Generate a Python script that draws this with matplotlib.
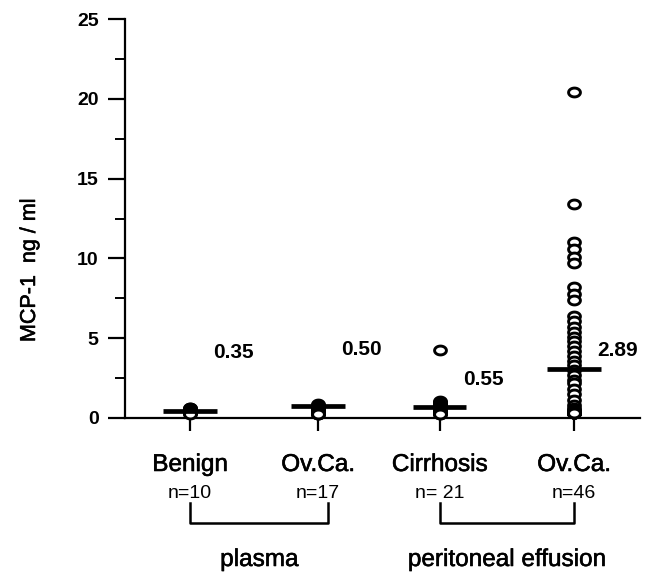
import numpy as np
import matplotlib
matplotlib.use("Agg")
import matplotlib.pyplot as plt
from matplotlib.path import Path
from matplotlib.lines import Line2D
import matplotlib.transforms as mtransforms
import matplotlib.patheffects as pe

plt.rcParams['font.family'] = ['Liberation Sans', 'DejaVu Sans']

# ---- data ----
categories = ["Benign", "Ov.Ca.", "Cirrhosis", "Ov.Ca."]
n_labels = ["n=10", "n=17", "n= 21", "n=46"]
groups = ["plasma", "peritoneal effusion"]
positions = [1, 2, 2.95, 4]

benign = [0.65, 0.6, 0.55, 0.5, 0.45, 0.4, 0.35, 0.3, 0.3, 0.25]
ovca_plasma = [0.85, 0.8, 0.75, 0.7, 0.65, 0.6, 0.55, 0.5, 0.45, 0.45,
               0.4, 0.35, 0.3, 0.3, 0.25, 0.25, 0.25]
cirrhosis = [4.25, 1.05, 1.0, 0.95, 0.9, 0.85, 0.8, 0.75, 0.7, 0.65, 0.6,
             0.55, 0.5, 0.45, 0.4, 0.35, 0.3, 0.3, 0.3, 0.25, 0.25]
ovca_effusion = [20.4, 13.4, 11.0, 10.6, 10.1, 9.7, 8.2, 7.8, 7.4, 6.4,
                 6.1, 5.7, 5.4, 5.1, 4.8, 4.5, 4.2, 3.9, 3.6, 3.3,
                 3.0, 2.7, 2.4, 2.2, 1.8, 1.5, 1.1, 0.8, 0.6, 0.5,
                 0.45, 0.4, 0.4, 0.35, 0.35, 0.3, 0.3, 0.3, 0.3, 0.3,
                 0.3, 0.3, 0.3, 0.3, 0.3, 0.3]
series = [benign, ovca_plasma, cirrhosis, ovca_effusion]

median_labels = ["0.35", "0.50", "0.55", "2.89"]
median_bar = [0.45, 0.75, 0.7, 3.1]
label_y = [4.1, 4.3, 2.4, 4.2]

yticks = [0, 5, 10, 15, 20, 25]

thick = [pe.withStroke(linewidth=0.4, foreground='black')]

# ---- figure ----
fig = plt.figure(figsize=(6.55, 5.73), dpi=100)
ax = fig.add_axes([125/655, (573-418)/573, (640-125)/655, (418-19)/573])

theta = np.linspace(0, 2*np.pi, 64)
ell = Path(np.c_[np.cos(theta), 0.75*np.sin(theta)], closed=True)

for p, vals in zip(positions, series):
    ax.plot([p]*len(vals), vals, linestyle='none', marker=ell, markersize=8.5,
            markerfacecolor='white', markeredgecolor='black', markeredgewidth=2.1,
            clip_on=False, zorder=3)

for p, m in zip(positions, median_bar):
    ax.plot([p-0.21, p+0.21], [m, m], color='black', lw=3.4, solid_capstyle='butt',
            zorder=4, clip_on=False)

for p, t, ly in zip(positions, median_labels, label_y):
    ax.text(p+0.34, ly, t, ha='center', va='center', fontsize=15, fontweight='bold')

ax.set_xlim(0.492, 4.516)
ax.set_ylim(0, 25)
ax.set_yticks(yticks)
ax.set_yticks(np.arange(2.5, 25, 5), minor=True)
ax.set_xticks(positions)
ax.set_xticklabels([])
ax.tick_params(axis='y', which='major', direction='out', length=12, width=1.6,
               labelsize=14, pad=7)
ax.tick_params(axis='y', which='minor', direction='out', length=7, width=1.4)
ax.tick_params(axis='x', which='major', direction='out', length=9, width=1.6)
for lab in ax.get_yticklabels():
    lab.set_fontweight('bold')
for s in ['top', 'right']:
    ax.spines[s].set_visible(False)
for s in ['left', 'bottom']:
    ax.spines[s].set_linewidth(1.6)

yl = ax.set_ylabel("MCP-1  ng / ml", fontsize=15.5)
yl.set_path_effects(thick)
ax.yaxis.set_label_coords(-85/515, 0.37)

trans = mtransforms.blended_transform_factory(ax.transData, fig.transFigure)
def fy(px):
    return 1 - px/573

for p, c, nl in zip(positions, categories, n_labels):
    ax.text(p, fy(465), c, transform=trans, ha='center', va='center',
            fontsize=17.5, clip_on=False, path_effects=thick)
    ax.text(p, fy(493), nl, transform=trans, ha='center', va='center',
            fontsize=14, clip_on=False)

# brackets
brackets = [(positions[0], positions[1] + 0.08), (positions[2], positions[3])]
for (a, b), g in zip(brackets, groups):
    ln = Line2D([a, a, b, b], [fy(503), fy(523), fy(523), fy(503)], transform=trans,
                color='black', lw=1.8, clip_on=False)
    fig.add_artist(ln)
    ax.text((a+b)/2, fy(560), g, transform=trans, ha='center', va='center',
            fontsize=17.5, clip_on=False, path_effects=thick)

fig.savefig("out.png", dpi=100)
